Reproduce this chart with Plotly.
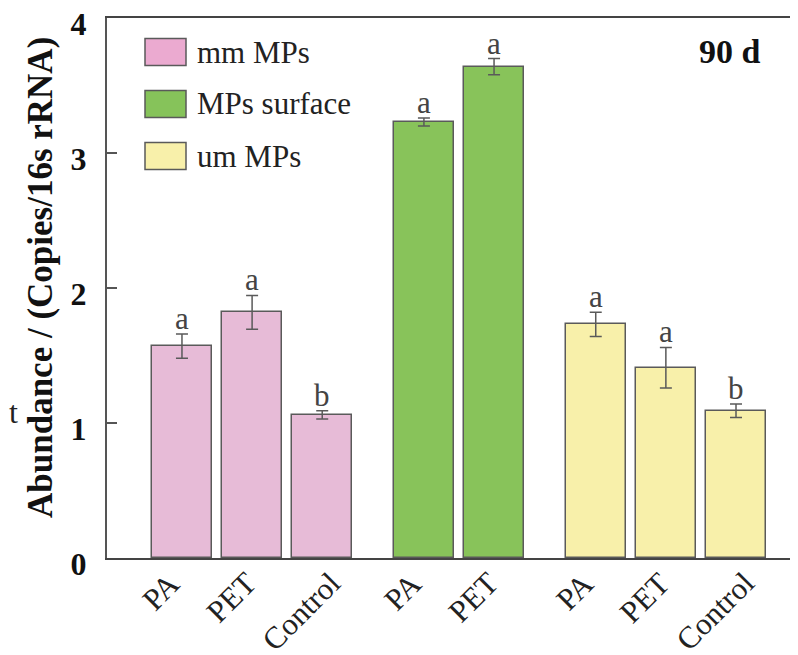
import plotly.graph_objects as go

# ---- data ----
groups = ["mm MPs", "MPs surface", "um MPs"]
mm_cats = ["PA", "PET", "Control"]
mm_vals = [1.57, 1.82, 1.06]
mm_err = [0.09, 0.125, 0.03]
mm_sig = ["a", "a", "b"]

surf_cats = ["PA", "PET"]
surf_vals = [3.23, 3.64]
surf_err = [0.03, 0.06]
surf_sig = ["a", "a"]

um_cats = ["PA", "PET", "Control"]
um_vals = [1.73, 1.41, 1.09]
um_err = [0.09, 0.15, 0.05]
um_sig = ["a", "a", "b"]

y_ticks = [0, 1, 2, 3, 4]
panel_label = "90 d"
y_title = "Abundance / (Copies/16s rRNA)"

# ---- style ----
colors = ["#E7BBD7", "#88C35A", "#F8F0AA"]
legend_colors = ["#EBAAD0", "#86C35A", "#F8F0AA"]
edge = "#5a5a5a"
FONT = "Liberation Serif"

group_starts = [0.0, 3.45, 5.9]
bar_w = 0.86

# page has an 8px body margin, so the figure is a bit smaller than the window
OFF = 8
W, H = 798 - OFF, 655 - OFF
ML, MR, MT = 107 - OFF, 0, 18 - OFF
PH = 540
MB = H - MT - PH
PW = W - ML - MR

fig = go.Figure()
all_x, all_t = [], []
series = [(mm_cats, mm_vals, mm_err, mm_sig),
          (surf_cats, surf_vals, surf_err, surf_sig),
          (um_cats, um_vals, um_err, um_sig)]
for gi, (cats, vals, errs, sigs) in enumerate(series):
    xs = [group_starts[gi] + i for i in range(len(cats))]
    all_x += xs
    all_t += cats
    fig.add_trace(go.Bar(
        x=xs, y=vals, width=bar_w, name=groups[gi],
        marker=dict(color=colors[gi], line=dict(color=edge, width=1.5)),
        error_y=dict(type="data", array=errs, visible=True,
                     color=edge, thickness=1.5, width=6),
        showlegend=False,
    ))
    for x, v, e, s in zip(xs, vals, errs, sigs):
        fig.add_annotation(x=x, y=v + e, text=s, showarrow=False,
                           xref="x", yref="y", yanchor="bottom", yshift=-4,
                           font=dict(family=FONT, size=31, color="#444"))

# rotated category labels, centred (as in the original) below each bar
for x, t in zip(all_x, all_t):
    fig.add_annotation(x=x, y=0, xref="x", yref="y", text=t, textangle=-45,
                       showarrow=False, xanchor="center", yanchor="top",
                       xshift=-21, yshift=-5,
                       font=dict(family=FONT, size=31, color="#222"))

# pixel (in the 798x655 screenshot) -> paper coords
def px(x):
    return (x - OFF - ML) / PW

def py(y):
    return (OFF + MT + PH - y) / PH

leg_rows = [52, 104, 156]
for name, c, yc in zip(groups, legend_colors, leg_rows):
    fig.add_shape(type="rect", xref="paper", yref="paper",
                  x0=px(145), x1=px(186), y0=py(yc - 13.5), y1=py(yc + 13.5),
                  fillcolor=c, line=dict(color=edge, width=1.5))
    fig.add_annotation(xref="paper", yref="paper", x=px(195), y=py(yc),
                       text=name, showarrow=False, xanchor="left", yanchor="middle",
                       font=dict(family=FONT, size=31, color="#222"))

fig.add_annotation(xref="paper", yref="paper", x=px(763), y=py(51),
                   text="<b>" + panel_label + "</b>", showarrow=False,
                   xanchor="right", yanchor="middle",
                   font=dict(family=FONT, size=34, color="#111"))

# y-axis title
fig.add_annotation(xref="paper", yref="paper", x=px(40), y=py(278),
                   text="<b>" + y_title + "</b>", showarrow=False, textangle=-90,
                   xanchor="center", yanchor="middle",
                   font=dict(family=FONT, size=35, color="#111"))

# stray cropped glyph at the left edge
fig.add_annotation(xref="paper", yref="paper", x=px(7), y=py(412),
                   text="t", showarrow=False, xanchor="left", yanchor="middle",
                   font=dict(family=FONT, size=32, color="#222"))

fig.update_layout(
    width=W, height=H,
    margin=dict(l=ML, r=MR, t=MT, b=MB, pad=0, autoexpand=False),
    paper_bgcolor="white", plot_bgcolor="white",
    bargap=0, showlegend=False,
    font=dict(family=FONT, color="#111"),
)
fig.update_xaxes(
    automargin=False,
    range=[-1.069, 8.784],
    tickmode="array", tickvals=all_x, ticktext=all_t, showticklabels=False,
    ticks="", showgrid=False, zeroline=False,
    showline=True, linecolor="#444", linewidth=2, mirror=True,
)
fig.update_yaxes(
    automargin=False,
    range=[0, 4], tickmode="array", tickvals=y_ticks,
    ticks="inside", ticklen=10, tickwidth=2, tickcolor="#555",
    showgrid=False, zeroline=False,
    showline=True, linecolor="#555", linewidth=2,
    ticklabelstandoff=12, ticklabelshift=6, ticklabeloverflow="allow",
    tickfont=dict(family=FONT, size=32, color="#111", weight="bold"),
)

fig.write_html("out.html")
